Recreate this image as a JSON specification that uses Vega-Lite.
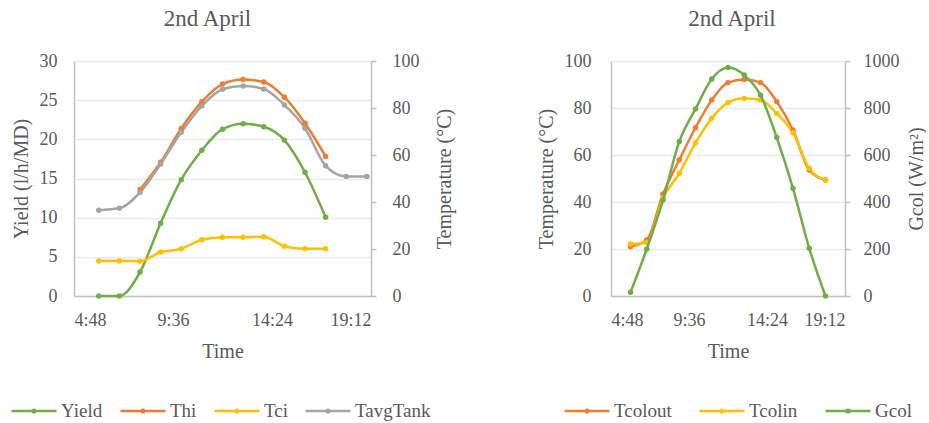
{
  "$schema": "https://vega.github.io/schema/vega-lite/v6.json",
  "background": "white",
  "padding": {"left": 10, "top": 8, "right": 0, "bottom": 0},
  "config": {
    "font": "Liberation Serif",
    "view": {"stroke": null},
    "concat": {"spacing": 82},
    "axis": {
      "labelFont": "Liberation Serif",
      "labelFontSize": 18,
      "labelColor": "#595959",
      "titleFont": "Liberation Serif",
      "titleFontSize": 20,
      "titleColor": "#595959",
      "titleFontWeight": "normal",
      "domainColor": "#bfbfbf",
      "domainWidth": 1.5,
      "tickColor": "#bfbfbf",
      "tickWidth": 1.5,
      "gridColor": "#ebebeb",
      "gridWidth": 1.5
    },
    "title": {"font": "Liberation Serif", "fontSize": 23, "fontWeight": "normal", "color": "#595959", "offset": 21},
    "legend": {
      "labelFont": "Liberation Serif",
      "labelFontSize": 19,
      "labelColor": "#595959",
      "symbolSize": 2025,
      "symbolStrokeWidth": 2.5,
      "symbolType": "M-1,0H1M-0.06,0a0.06,0.06 0 1,0 0.12,0a0.06,0.06 0 1,0 -0.12,0",
      "labelOffset": 3,
      "direction": "horizontal",
      "orient": "none",
      "title": null
    }
  },
  "datasets": {
    "left": [
      {"t": 6, "series": "Yield", "v": 0},
      {"t": 7, "series": "Yield", "v": 0},
      {"t": 8, "series": "Yield", "v": 3.05},
      {"t": 9, "series": "Yield", "v": 9.3},
      {"t": 10, "series": "Yield", "v": 14.85},
      {"t": 11, "series": "Yield", "v": 18.6},
      {"t": 12, "series": "Yield", "v": 21.3},
      {"t": 13, "series": "Yield", "v": 22.0},
      {"t": 14, "series": "Yield", "v": 21.6},
      {"t": 15, "series": "Yield", "v": 19.9},
      {"t": 16, "series": "Yield", "v": 15.8},
      {"t": 17, "series": "Yield", "v": 10.05},
      {"t": 8, "series": "Thi", "v": 45.3},
      {"t": 9, "series": "Thi", "v": 56.9},
      {"t": 10, "series": "Thi", "v": 71.3},
      {"t": 11, "series": "Thi", "v": 82.7},
      {"t": 12, "series": "Thi", "v": 90.2},
      {"t": 13, "series": "Thi", "v": 92.1},
      {"t": 14, "series": "Thi", "v": 91.1},
      {"t": 15, "series": "Thi", "v": 84.6},
      {"t": 16, "series": "Thi", "v": 73.5},
      {"t": 17, "series": "Thi", "v": 59.4},
      {"t": 6, "series": "Tci", "v": 14.9},
      {"t": 7, "series": "Tci", "v": 14.9},
      {"t": 8, "series": "Tci", "v": 14.8},
      {"t": 9, "series": "Tci", "v": 18.7},
      {"t": 10, "series": "Tci", "v": 20.1},
      {"t": 11, "series": "Tci", "v": 23.9},
      {"t": 12, "series": "Tci", "v": 25.0},
      {"t": 13, "series": "Tci", "v": 25.0},
      {"t": 14, "series": "Tci", "v": 25.2},
      {"t": 15, "series": "Tci", "v": 21.2},
      {"t": 16, "series": "Tci", "v": 20.1},
      {"t": 17, "series": "Tci", "v": 20.1},
      {"t": 6, "series": "TavgTank", "v": 36.5},
      {"t": 7, "series": "TavgTank", "v": 37.3},
      {"t": 8, "series": "TavgTank", "v": 44.1},
      {"t": 9, "series": "TavgTank", "v": 56.2},
      {"t": 10, "series": "TavgTank", "v": 69.7},
      {"t": 11, "series": "TavgTank", "v": 80.9},
      {"t": 12, "series": "TavgTank", "v": 88.0},
      {"t": 13, "series": "TavgTank", "v": 89.4},
      {"t": 14, "series": "TavgTank", "v": 88.1},
      {"t": 15, "series": "TavgTank", "v": 81.3},
      {"t": 16, "series": "TavgTank", "v": 71.4},
      {"t": 17, "series": "TavgTank", "v": 55.4},
      {"t": 18, "series": "TavgTank", "v": 50.9},
      {"t": 19, "series": "TavgTank", "v": 50.9}
    ],
    "right": [
      {"t": 6, "series": "Tcolout", "v": 21.0},
      {"t": 7, "series": "Tcolout", "v": 23.8},
      {"t": 8, "series": "Tcolout", "v": 43.4},
      {"t": 9, "series": "Tcolout", "v": 57.9},
      {"t": 10, "series": "Tcolout", "v": 71.6},
      {"t": 11, "series": "Tcolout", "v": 83.4},
      {"t": 12, "series": "Tcolout", "v": 90.8},
      {"t": 13, "series": "Tcolout", "v": 92.1},
      {"t": 14, "series": "Tcolout", "v": 90.8},
      {"t": 15, "series": "Tcolout", "v": 82.7},
      {"t": 16, "series": "Tcolout", "v": 70.6},
      {"t": 17, "series": "Tcolout", "v": 53.6},
      {"t": 18, "series": "Tcolout", "v": 49.4},
      {"t": 6, "series": "Tcolin", "v": 22.1},
      {"t": 7, "series": "Tcolin", "v": 22.8},
      {"t": 8, "series": "Tcolin", "v": 41.6},
      {"t": 9, "series": "Tcolin", "v": 52.2},
      {"t": 10, "series": "Tcolin", "v": 65.2},
      {"t": 11, "series": "Tcolin", "v": 75.6},
      {"t": 12, "series": "Tcolin", "v": 82.3},
      {"t": 13, "series": "Tcolin", "v": 84.1},
      {"t": 14, "series": "Tcolin", "v": 83.4},
      {"t": 15, "series": "Tcolin", "v": 77.7},
      {"t": 16, "series": "Tcolin", "v": 69.5},
      {"t": 17, "series": "Tcolin", "v": 54.3},
      {"t": 18, "series": "Tcolin", "v": 49.4},
      {"t": 6, "series": "Gcol", "v": 15.6},
      {"t": 7, "series": "Gcol", "v": 200},
      {"t": 8, "series": "Gcol", "v": 408},
      {"t": 9, "series": "Gcol", "v": 657},
      {"t": 10, "series": "Gcol", "v": 796},
      {"t": 11, "series": "Gcol", "v": 923},
      {"t": 12, "series": "Gcol", "v": 972},
      {"t": 13, "series": "Gcol", "v": 940},
      {"t": 14, "series": "Gcol", "v": 855},
      {"t": 15, "series": "Gcol", "v": 674},
      {"t": 16, "series": "Gcol", "v": 458},
      {"t": 17, "series": "Gcol", "v": 203},
      {"t": 18, "series": "Gcol", "v": 0}
    ]
  },
  "hconcat": [
    {
      "title": {"text": "2nd April", "dx": -15},
      "width": 297,
      "height": 235,
      "data": {"name": "left"},
      "encoding": {
        "x": {
          "field": "t", "type": "quantitative",
          "scale": {"domain": [4.8, 19.2], "nice": false, "zero": false},
          "axis": {
            "title": "Time", "values": [4.8, 9.6, 14.4, 19.2], "grid": false, "ticks": false,
            "labelPadding": 15, "titlePadding": 12,
            "labelExpr": "floor(datum.value) + ':' + (round((datum.value - floor(datum.value)) * 60) < 10 ? '0' : '') + round((datum.value - floor(datum.value)) * 60)"
          }
        },
        "color": {
          "field": "series", "type": "nominal",
          "scale": {"domain": ["Yield", "Thi", "Tci", "TavgTank"], "range": ["#70ad47", "#ed7d31", "#ffc000", "#a5a5a5"]},
          "legend": {"legendX": -64, "legendY": 326, "columnPadding": 12}
        }
      },
      "layer": [
        {
          "transform": [{"filter": "datum.series == 'Yield'"}],
          "mark": {"type": "line", "interpolate": "monotone", "strokeWidth": 2.5, "point": {"filled": true, "size": 30}},
          "encoding": {
            "y": {
              "field": "v", "type": "quantitative",
              "scale": {"domain": [0, 30], "nice": false},
              "axis": {"title": "Yield (l/h/MD)", "values": [0, 5, 10, 15, 20, 25, 30], "grid": true, "ticks": false, "labelPadding": 17, "titlePadding": 8}
            }
          }
        },
        {
          "transform": [{"filter": "datum.series != 'Yield'"}],
          "mark": {"type": "line", "interpolate": "monotone", "strokeWidth": 2.5, "point": {"filled": true, "size": 30}},
          "encoding": {
            "y": {
              "field": "v", "type": "quantitative",
              "scale": {"domain": [0, 100], "nice": false},
              "axis": {"orient": "right", "title": "Temperature (°C)", "values": [0, 20, 40, 60, 80, 100], "grid": false, "tickSize": 5, "labelPadding": 16, "titlePadding": 15, "titleAngle": 270, "titleBaseline": "top"}
            }
          }
        }
      ],
      "resolve": {"scale": {"y": "independent"}}
    },
    {
      "title": {"text": "2nd April", "dx": 4},
      "width": 234,
      "height": 235,
      "data": {"name": "right"},
      "encoding": {
        "x": {
          "field": "t", "type": "quantitative",
          "scale": {"domain": [4.8, 19.2], "nice": false, "zero": false},
          "axis": {
            "title": "Time", "values": [4.8, 9.6, 14.4, 19.2], "grid": false, "ticks": false,
            "labelPadding": 15, "titlePadding": 12,
            "labelExpr": "floor(datum.value) + ':' + (round((datum.value - floor(datum.value)) * 60) < 10 ? '0' : '') + round((datum.value - floor(datum.value)) * 60)"
          }
        },
        "color": {
          "field": "series", "type": "nominal",
          "scale": {"domain": ["Tcolout", "Tcolin", "Gcol"], "range": ["#ed7d31", "#ffc000", "#70ad47"]},
          "legend": {"legendX": -48, "legendY": 326, "columnPadding": 22}
        }
      },
      "layer": [
        {
          "transform": [{"filter": "datum.series != 'Gcol'"}],
          "mark": {"type": "line", "interpolate": "monotone", "strokeWidth": 2.5, "point": {"filled": true, "size": 30}},
          "encoding": {
            "y": {
              "field": "v", "type": "quantitative",
              "scale": {"domain": [0, 100], "nice": false},
              "axis": {"title": "Temperature (°C)", "values": [0, 20, 40, 60, 80, 100], "grid": true, "ticks": false, "labelPadding": 20, "titlePadding": 8}
            }
          }
        },
        {
          "transform": [{"filter": "datum.series == 'Gcol'"}],
          "mark": {"type": "line", "interpolate": "monotone", "strokeWidth": 2.5, "point": {"filled": true, "size": 30}},
          "encoding": {
            "y": {
              "field": "v", "type": "quantitative",
              "scale": {"domain": [0, 1000], "nice": false},
              "axis": {"orient": "right", "title": "Gcol (W/m²)", "format": "d", "values": [0, 200, 400, 600, 800, 1000], "grid": false, "tickSize": 5, "labelPadding": 13, "titlePadding": 7, "titleAngle": 270, "titleBaseline": "top"}
            }
          }
        }
      ],
      "resolve": {"scale": {"y": "independent"}}
    }
  ],
  "resolve": {"scale": {"color": "independent"}, "legend": {"color": "independent"}}
}
